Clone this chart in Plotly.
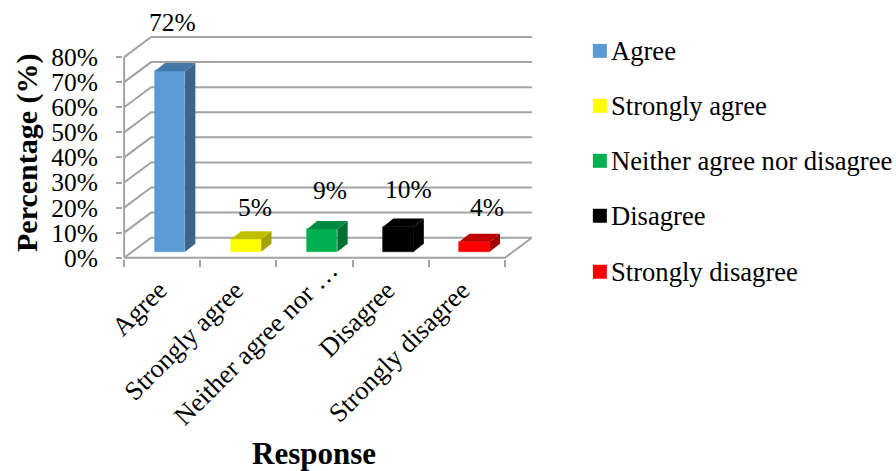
import plotly.graph_objects as go

categories = ["Agree", "Strongly agree", "Neither agree nor disagree", "Disagree", "Strongly disagree"]
axis_labels = ["Agree", "Strongly agree", "Neither agree nor …", "Disagree", "Strongly disagree"]
values = [72, 5, 9, 10, 4]
y_ticks = [0, 10, 20, 30, 40, 50, 60, 70, 80]
y_tick_text = ["0%", "10%", "20%", "30%", "40%", "50%", "60%", "70%", "80%"]

front_colors = ["#5B9BD5", "#FFFF00", "#00B050", "#000000", "#FF0000"]
top_colors = ["#4477A5", "#BFBF00", "#008A3E", "#000000", "#C00000"]
side_colors = ["#3A6488", "#A3A300", "#007033", "#000000", "#A00000"]

FONT = "Liberation Serif"
TEXT = "#000000"
GRID = "#A3A3A3"

W, H = 896, 471
PLOT_L, PLOT_R, PLOT_T, PLOT_B = 122.86, 543.1, 32.1, 259.26  # window pixels


def paper_x(px):
    return (px - PLOT_L) / (PLOT_R - PLOT_L)


def paper_y(py):
    return (PLOT_B - py) / (PLOT_B - PLOT_T)


# 3D depth in axis units
WALL_DX, WALL_DY = 0.354, 8.0
BAR_DX, BAR_DY = 0.135, 3.2
BAR_BASE, BAR_W, BAR_OFF = 2.4, 0.40, 0.60
N = len(categories)

fig = go.Figure()

for i, (name, v) in enumerate(zip(categories, values)):
    x0 = i + BAR_OFF - BAR_W / 2
    x1 = i + BAR_OFF + BAR_W / 2
    top = BAR_BASE + v
    fig.add_trace(go.Bar(
        x=[i + BAR_OFF], y=[v], base=[BAR_BASE], width=[BAR_W], name=name,
        marker=dict(color=front_colors[i], line=dict(width=0.6, color=front_colors[i])),
        showlegend=False, hoverinfo="skip",
    ))
    fig.add_trace(go.Scatter(
        x=[x0, x1, x1 + BAR_DX, x0 + BAR_DX, x0],
        y=[top, top, top + BAR_DY, top + BAR_DY, top],
        mode="lines", fill="toself", fillcolor=top_colors[i], line=dict(width=0),
        showlegend=False, hoverinfo="skip",
    ))
    fig.add_trace(go.Scatter(
        x=[x1, x1 + BAR_DX, x1 + BAR_DX, x1, x1],
        y=[BAR_BASE, BAR_BASE + BAR_DY, top + BAR_DY, top, BAR_BASE],
        mode="lines", fill="toself", fillcolor=side_colors[i], line=dict(width=0),
        showlegend=False, hoverinfo="skip",
    ))

shapes = []
line = dict(color=GRID, width=2)
for t in y_ticks:
    shapes.append(dict(type="path", xref="x", yref="y", layer="below", line=line,
                       path=f"M0,{t} L{WALL_DX},{t + WALL_DY} L{N + WALL_DX},{t + WALL_DY}"))
shapes.append(dict(type="line", xref="x", yref="y", layer="below", line=line,
                   x0=0, y0=0, x1=0, y1=y_ticks[-1]))
shapes.append(dict(type="path", xref="x", yref="y", layer="below", line=line,
                   path=f"M0,0 L{N},0 L{N + WALL_DX},{WALL_DY}"))

annotations = []
label_shift = [(3, 12), (9, -5), (8, 2), (10, 1), (13, -2)]
for i, v in enumerate(values):
    annotations.append(dict(
        x=i + BAR_OFF, y=BAR_BASE + v + BAR_DY, xref="x", yref="y", text=f"{v}%",
        showarrow=False, xanchor="center", yanchor="bottom",
        xshift=label_shift[i][0], yshift=label_shift[i][1] + 12,
        font=dict(family=FONT, size=25.5, color=TEXT),
    ))

cat_shift = [(14, 12), (13, 11), (32, 32), (13, 11), (11, 11)]
for i, lab in enumerate(axis_labels):
    annotations.append(dict(
        x=i + 0.5, y=0, xref="x", yref="y", text=lab, textangle=-45,
        showarrow=False, xanchor="right", yanchor="top",
        xshift=cat_shift[i][0], yshift=-26 + cat_shift[i][1],
        font=dict(family=FONT, size=26.5, color=TEXT),
    ))

annotations.append(dict(
    x=paper_x(314), y=paper_y(454), xref="paper", yref="paper", text="<b>Response</b>",
    showarrow=False, xanchor="center", yanchor="middle",
    font=dict(family=FONT, size=31, color=TEXT),
))
annotations.append(dict(
    x=paper_x(27), y=paper_y(153), xref="paper", yref="paper", text="<b>Percentage (%)</b>",
    textangle=-90, showarrow=False, xanchor="center", yanchor="middle",
    font=dict(family=FONT, size=30, color=TEXT),
))

# Legend: swatch and entry placed by hand so the gap matches the reference
legend_y = [51, 106, 161, 216, 272]
for name, color, py in zip(categories, front_colors, legend_y):
    shapes.append(dict(type="rect", xref="paper", yref="paper", layer="above",
                       x0=paper_x(593), x1=paper_x(607), y0=paper_y(py - 7), y1=paper_y(py + 7),
                       fillcolor=color, line=dict(width=0)))
    annotations.append(dict(
        x=paper_x(609), y=paper_y(py), xref="paper", yref="paper", text=name,
        showarrow=False, xanchor="left", yanchor="middle",
        font=dict(family=FONT, size=26.6, color=TEXT),
    ))

fig.update_layout(
    width=W, height=H,
    margin=dict(l=PLOT_L, r=W - PLOT_R, t=PLOT_T, b=H - PLOT_B, autoexpand=False),
    paper_bgcolor="#FFFFFF", plot_bgcolor="#FFFFFF",
    font=dict(family=FONT, size=25.5, color=TEXT),
    shapes=shapes, annotations=annotations,
    bargap=0, showlegend=False,
    xaxis=dict(range=[-0.015, 5.5], tickmode="array", tickvals=list(range(N + 1)),
               showticklabels=False, ticks="outside", ticklen=7, tickwidth=1.5, tickcolor=GRID,
               showgrid=False, zeroline=False, showline=False),
    yaxis=dict(range=[-0.5, 90], tickmode="array", tickvals=y_ticks, ticktext=y_tick_text,
               ticks="outside", ticklen=6, tickwidth=1.5, tickcolor=GRID, ticklabelstandoff=13,
               tickfont=dict(family=FONT, size=25.5, color=TEXT),
               showgrid=False, zeroline=False, showline=False),
)

fig.write_html("out.html", config={"displayModeBar": False},
               post_script="document.body.style.margin='0';document.body.style.overflow='hidden';")
